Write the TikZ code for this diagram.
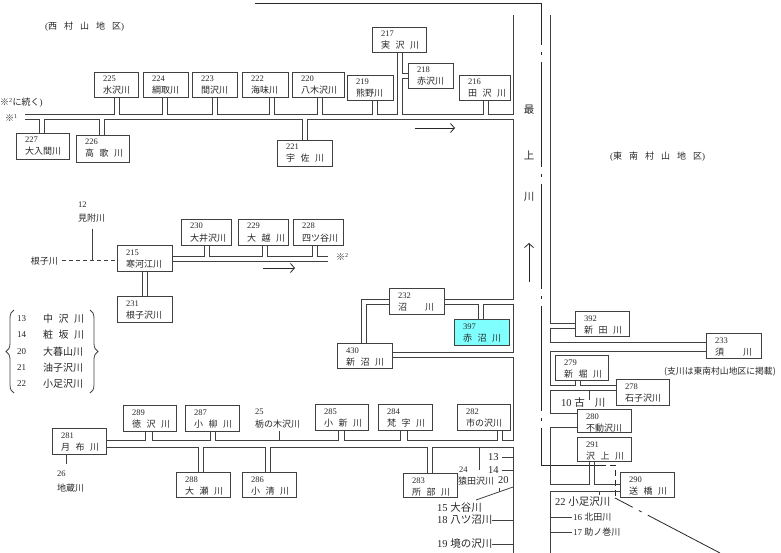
\documentclass[tikz,border=0pt]{standalone}
\usepackage{fontspec}
\setmainfont{Liberation Serif}
\newfontfamily\jp{Noto Sans CJK JP}
\usetikzlibrary{decorations.pathreplacing,arrows.meta}
\definecolor{cyanbox}{RGB}{128,255,255}
\newcommand\gp{\hspace{5.5pt}}
\newcommand\JJ[1]{{\jp #1}}
\newcommand\rivbox[7][]{%
  \node[rbox,#1,minimum width=#5pt,minimum height=#6pt] (b#2) at (#3,#4) {};
  \node[numt] (n#2) at ([shift={(9pt,-10pt)}]b#2.north west) {#2};
  \node[namet] (m#2) at ([shift={(9pt,-22pt)}]b#2.north west) {#7};}
\begin{document}
\begin{tikzpicture}[x=1pt,y=-1pt,
  rbox/.style={draw=black!75, line width=0.9pt, anchor=north west, inner sep=0pt, rectangle},
  numt/.style={anchor=base west, inner sep=0pt, text=black!85, font=\fontsize{8.5}{10}\selectfont},
  namet/.style={anchor=base west, inner sep=0pt, text=black!85, font=\jp\fontsize{9}{10}\selectfont},
  ch/.style={draw=black!75, line width=0.8pt},
  lbl/.style={anchor=west, inner sep=0pt, text=black!85, font=\fontsize{9}{10}\selectfont},
  big/.style={anchor=west, inner sep=0pt, text=black!85, font=\fontsize{10.5}{12}\selectfont},
  bound/.style={draw=black!85, line width=0.8pt},
  arr/.style={draw=black!85, line width=0.8pt, -{Straight Barb[length=4pt,width=9pt]}}]
\useasboundingbox (0,0) rectangle (781,553);

% region labels
\node[lbl] (westlbl) at (45,27) {(\JJ{西\hspace{7pt}村\hspace{7pt}山\hspace{7pt}地\hspace{7pt}区})};
\node[lbl] (eastlbl) at (610,157) {(\JJ{東\hspace{7pt}南\hspace{7pt}村\hspace{7pt}山\hspace{7pt}地\hspace{7pt}区})};
\node[lbl] (cont) at (0,103) {\JJ{※}\textsuperscript{2}\JJ{に続く})};
\node[lbl] (mark1) at (5,118) {\JJ{※}\textsuperscript{1}};

% boundary
\coordinate (bd1) at (255,3);
\coordinate (bd2) at (541,3);
\coordinate (bd3) at (541,45);
\coordinate (bd4) at (541,465);
\coordinate (bd5) at (600,465);
\coordinate (bd6) at (615,465);
\coordinate (bd7) at (615,498);
\coordinate (bd8) at (720,553);
\draw[bound] (bd1) -- (bd2) -- (bd3);
\draw[bound, dash pattern=on 105pt off 7pt on 3pt off 7pt, dash phase=105pt] (bd3) -- (bd4);
\draw[bound] (bd4) -- (bd5);
\draw[bound, dash pattern=on 6pt off 4pt] (bd5) -- (bd6) -- (bd7);
\draw[bound, dash pattern=on 105pt off 7pt on 3pt off 7pt, dash phase=85pt] (bd7) -- (bd8);

% Mogami
\draw[ch] (550,15) -- (550,323) -- (575,323);
\node[big, anchor=center] (mo1) at (529,110) {\JJ{最}};
\node[big, anchor=center] (mo2) at (529,155) {\JJ{上}};
\node[big, anchor=center] (mo3) at (529,197) {\JJ{川}};
\coordinate (ma1) at (529,282);
\coordinate (ma2) at (529,243);
\draw[arr] (ma1) -- (ma2);

% top channel boxes
\rivbox{225}{94}{72}{44}{25}{水沢川}
\rivbox{224}{143}{72}{45}{25}{綱取川}
\rivbox{223}{192}{72}{45}{25}{間沢川}
\rivbox{222}{242}{72}{46}{25}{海味川}
\rivbox{220}{292}{72}{52}{25}{八木沢川}
\rivbox{219}{347}{75}{46}{25}{熊野川}
\rivbox{217}{372}{27}{54}{25}{実\gp 沢\gp 川}
\rivbox{218}{408}{63}{45}{25}{赤沢川}
\rivbox{216}{459}{75}{51}{25}{田\gp 沢\gp 川}
\rivbox{221}{277}{140}{55}{26}{宇\gp 佐\gp 川}
\rivbox{227}{16}{133}{53}{26}{大入間川}
\rivbox{226}{76}{135}{53}{27}{高\gp 歌\gp 川}

\draw[ch] (25,114) -- (114,114) -- (114,97);
\draw[ch] (119,97) -- (119,114) -- (162,114) -- (162,97);
\draw[ch] (167,97) -- (167,114) -- (212,114) -- (212,97);
\draw[ch] (217,97) -- (217,114) -- (269,114) -- (269,97);
\draw[ch] (274,97) -- (274,114) -- (317,114) -- (317,97);
\draw[ch] (322,97) -- (322,114) -- (372,114) -- (372,100);
\draw[ch] (377,100) -- (377,114) -- (397,114) -- (397,52);
\draw[ch] (402,52) -- (402,73) -- (408,73);
\draw[ch] (408,78) -- (402,78) -- (402,114) -- (483,114) -- (483,100);
\draw[ch] (488,100) -- (488,114) -- (513,114) -- (513,15);
\draw[ch] (25,119) -- (39,119) -- (39,133);
\draw[ch] (44,133) -- (44,119) -- (99,119) -- (99,135);
\draw[ch] (104,135) -- (104,119) -- (302,119) -- (302,140);
\draw[ch] (307,140) -- (307,119) -- (513,119) -- (513,299) -- (444,299);
\coordinate (ta1) at (415,128);
\coordinate (ta2) at (455,128);
\draw[arr] (ta1) -- (ta2);

% Sagae channel
\node[lbl] (n12) at (78,205) {\fontsize{8.5}{10}\selectfont 12};
\node[lbl] (miz) at (78,218) {\JJ{見附川}};
\node[lbl, anchor=east] (neko) at (58,261) {\JJ{根子川}};
\draw[ch] (92,229) -- (92,260);
\draw[ch, dash pattern=on 4pt off 3pt] (62,260) -- (117,260);
\rivbox{215}{117}{245}{55}{26}{寒河江川}
\rivbox{230}{181}{219}{50}{26}{大井沢川}
\rivbox{229}{238}{219}{50}{26}{大\gp 越\gp 川}
\rivbox{228}{293}{219}{50}{26}{四ツ谷川}
\rivbox{231}{117}{296}{55}{26}{根子沢川}
\draw[ch] (172,256) -- (204,256) -- (204,245);
\draw[ch] (209,245) -- (209,256) -- (262,256) -- (262,245);
\draw[ch] (267,245) -- (267,256) -- (312,256) -- (312,245);
\draw[ch] (317,245) -- (317,256) -- (328,256);
\draw[ch] (172,261) -- (328,261);
\draw[ch] (142,271) -- (142,296);
\draw[ch] (147,271) -- (147,296);
\coordinate (sa1) at (263,268);
\coordinate (sa2) at (295,268);
\draw[arr] (sa1) -- (sa2);
\node[lbl] (mark2) at (336,257) {\JJ{※}\textsuperscript{2}};

% legend
\draw[ch, decorate, decoration={brace, amplitude=8pt}] (14,393) -- (14,310);
\draw[ch, decorate, decoration={brace, amplitude=8pt}] (90,310) -- (90,393);
\node[lbl] (g13n) at (17,319) {13};
\node[lbl] (g14n) at (17,335) {14};
\node[lbl] (g20n) at (17,352) {20};
\node[lbl] (g21n) at (17,368) {21};
\node[lbl] (g22n) at (17,384) {22};
\node[lbl, font=\jp\fontsize{10}{11}\selectfont] (g13) at (43,319) {中\gp 沢\gp 川};
\node[lbl, font=\jp\fontsize{10}{11}\selectfont] (g14) at (43,335) {粧\gp 坂\gp 川};
\node[lbl, font=\jp\fontsize{10}{11}\selectfont] (g20) at (43,352) {大暮山川};
\node[lbl, font=\jp\fontsize{10}{11}\selectfont] (g21) at (43,368) {油子沢川};
\node[lbl, font=\jp\fontsize{10}{11}\selectfont] (g22) at (43,384) {小足沢川};

% Numa section
\rivbox{232}{389}{288}{55}{26}{沼\hspace{18pt}川}
\rivbox[fill=cyanbox]{397}{454}{319}{55}{26}{赤\gp 沼\gp 川}
\rivbox{430}{337}{343}{55}{25}{新\gp 沼\gp 川}
\draw[ch] (444,304) -- (478,304) -- (478,319);
\draw[ch] (483,319) -- (483,304) -- (513,304) -- (513,352) -- (392,352);
\draw[ch] (392,357) -- (513,357) -- (513,440) -- (502,440) -- (502,430);
\draw[ch] (389,299) -- (361,299) -- (361,343);
\draw[ch] (389,304) -- (366,304) -- (366,343);

% right bank section
\rivbox{392}{575}{311}{54}{25}{新\gp 田\gp 川}
\rivbox{233}{706}{333}{55}{25}{須\hspace{19pt}川}
\rivbox{279}{555}{355}{53}{25}{新\gp 堀\gp 川}
\rivbox{278}{616}{379}{53}{26}{石子沢川}
\rivbox{280}{577}{409}{54}{23}{不動沢川}
\rivbox{291}{577}{437}{54}{24}{沢\gp 上\gp 川}
\rivbox{290}{620}{472}{54}{25}{送\gp 橋\gp 川}
\draw[ch] (575,328) -- (550,328) -- (550,342) -- (706,342);
\draw[ch] (706,351) -- (550,351) -- (550,385) -- (575,385) -- (575,380);
\draw[ch] (580,380) -- (580,385) -- (616,385);
\draw[ch] (616,390) -- (550,390) -- (550,413) -- (577,413);
\draw[ch] (589,390) -- (589,400);
\draw[ch] (577,427) -- (550,427) -- (550,484) -- (589,484) -- (589,461);
\draw[ch] (594,461) -- (594,484) -- (620,484);
\draw[ch] (620,491) -- (550,491) -- (550,553);
\draw[ch] (599,491) -- (599,495);
\draw[ch] (550,517) -- (572,517);
\draw[ch] (550,532) -- (572,532);
\node[big] (furu) at (561,403) {10 \JJ{古\hspace{10pt}川}};
\node[lbl, font=\jp\fontsize{8.8}{10}\selectfont] (note) at (664,372) {(支川は東南村山地区に掲載)};
\node[big] (koashi) at (555,502) {22 \JJ{小足沢川}};
\node[lbl] (kita) at (573,517) {16 \JJ{北田川}};
\node[lbl] (suke) at (573,532) {17 \JJ{助ノ巻川}};

% bottom channel
\rivbox{281}{52}{428}{54}{26}{月\gp 布\gp 川}
\rivbox{289}{123}{405}{53}{26}{徳\gp 沢\gp 川}
\rivbox{287}{185}{405}{54}{26}{小\gp 柳\gp 川}
\rivbox{285}{315}{404}{53}{26}{小\gp 新\gp 川}
\rivbox{284}{378}{404}{54}{26}{梵\gp 字\gp 川}
\rivbox{282}{457}{404}{53}{26}{市の沢川}
\rivbox{288}{176}{472}{54}{25}{大\gp 瀬\gp 川}
\rivbox{286}{242}{472}{54}{25}{小\gp 清\gp 川}
\rivbox{283}{403}{473}{54}{24}{所\gp 部\gp 川}
\draw[ch] (66,454) -- (66,464);
\node[lbl] (n26) at (57,474) {\fontsize{8.5}{10}\selectfont 26};
\node[lbl] (jizo) at (57,488) {\JJ{地蔵川}};
\draw[ch] (106,440) -- (145,440) -- (145,431);
\draw[ch] (152,431) -- (152,440) -- (210,440) -- (210,431);
\draw[ch] (215,431) -- (215,440) -- (338,440) -- (338,430);
\draw[ch] (344,430) -- (344,440) -- (400,440) -- (400,430);
\draw[ch] (407,430) -- (407,440) -- (497,440) -- (497,430);
\draw[ch] (279,440) -- (279,431);
\draw[ch] (106,447) -- (198,447) -- (198,472);
\draw[ch] (203,472) -- (203,447) -- (265,447) -- (265,472);
\draw[ch] (270,472) -- (270,447) -- (427,447) -- (427,473);
\draw[ch] (432,473) -- (432,447) -- (513,447) -- (513,553);
\node[lbl] (n25) at (255,412) {\fontsize{8.5}{10}\selectfont 25};
\node[lbl] (tochi) at (255,424) {\JJ{栃の木沢川}};
\draw[ch] (479,447) -- (479,470);
\node[lbl] (n24) at (459,470) {\fontsize{8.5}{10}\selectfont 24};
\node[lbl] (saru) at (458,481) {\JJ{猿田沢川}};
\node[big] (r13) at (488,457) {13};
\node[big] (r14) at (488,470) {14};
\node[big] (r20) at (498,480) {20};
\draw[ch] (502,457) -- (513,457);
\draw[ch] (502,470) -- (513,470);
\draw[ch] (499,488) -- (499,492);
\draw[ch] (513,487) -- (476,500);
\node[big] (r15) at (437,508) {15 \JJ{大谷川}};
\node[big] (r18) at (437,520) {18 \JJ{八ツ沼川}};
\node[big] (r19) at (437,544) {19 \JJ{境の沢川}};
\draw[ch] (492,520) -- (513,520);
\draw[ch] (492,544) -- (513,544);
\end{tikzpicture}
\end{document}
